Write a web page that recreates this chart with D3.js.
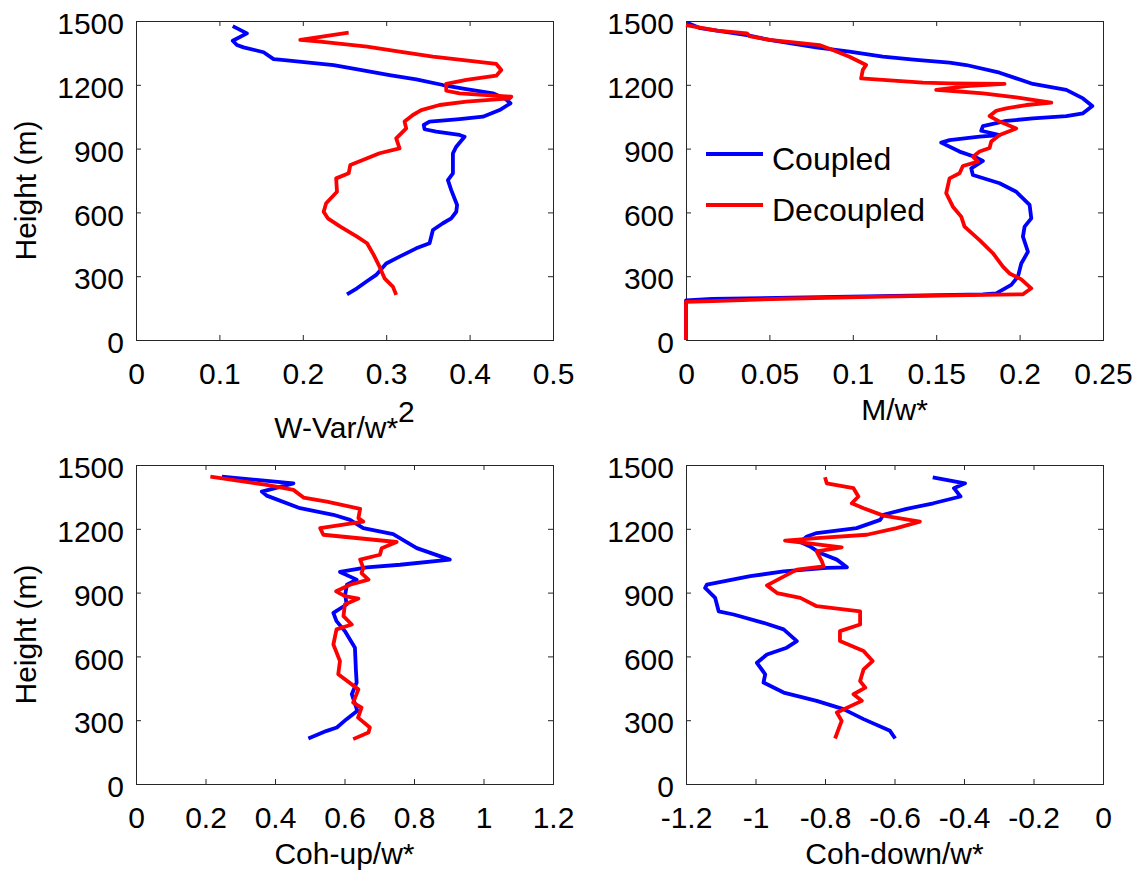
<!DOCTYPE html>
<html>
<head>
<meta charset="utf-8">
<script src="https://cdn.jsdelivr.net/npm/d3@7"></script>
<style>
  html, body { margin: 0; padding: 0; background: #fff; }
  svg text { font-family: "Liberation Sans", Arial, Helvetica, sans-serif; fill: #000; }
</style>
</head>
<body>
<svg id="fig" width="1143" height="880"></svg>
<script>
// Vertical profiles: each point is [value, height in m]

// W-Var / w*^2
const wvarCoupled = [
  [0.116,1476],[0.133,1442],[0.116,1407],[0.121,1387],[0.129,1376],[0.153,1353],[0.165,1321],
  [0.175,1317],[0.237,1293],[0.269,1270],[0.304,1246],[0.336,1226],[0.368,1199],[0.396,1180],
  [0.428,1160],[0.442,1136],[0.449,1113],[0.436,1081],[0.416,1050],[0.388,1039],[0.352,1027],
  [0.345,1011],[0.346,991],[0.360,980],[0.388,964],[0.394,956],[0.384,909],[0.380,878],
  [0.380,784],[0.374,752],[0.378,705],[0.385,635],[0.384,603],[0.378,572],[0.368,549],
  [0.356,517],[0.352,455],[0.336,431],[0.316,392],[0.300,360],[0.288,306],[0.276,274],
  [0.265,243],[0.253,215]
];
const wvarDecoupled = [
  [0.255,1445],[0.209,1418],[0.197,1411],[0.221,1403],[0.277,1379],[0.316,1356],[0.356,1332],
  [0.432,1298],[0.438,1270],[0.432,1243],[0.396,1223],[0.372,1204],[0.372,1172],[0.388,1160],
  [0.450,1144],[0.448,1136],[0.396,1121],[0.364,1105],[0.342,1081],[0.332,1058],[0.322,1027],
  [0.324,995],[0.312,948],[0.316,901],[0.292,878],[0.272,846],[0.257,823],[0.255,784],
  [0.240,760],[0.241,697],[0.228,643],[0.225,603],[0.230,572],[0.245,533],[0.265,486],
  [0.277,455],[0.285,400],[0.292,345],[0.298,290],[0.308,251],[0.312,212]
];

// M / w*
const massCoupled = [
  [0.0006,1492],[0.0086,1466],[0.0365,1434],[0.050,1411],[0.078,1376],[0.098,1356],[0.118,1332],
  [0.138,1317],[0.158,1304],[0.168,1293],[0.188,1257],[0.198,1230],[0.208,1204],[0.228,1176],
  [0.238,1136],[0.2436,1100],[0.238,1066],[0.228,1053],[0.208,1042],[0.192,1030],[0.178,1006],
  [0.177,984],[0.188,964],[0.176,956],[0.158,940],[0.153,928],[0.164,886],[0.173,862],
  [0.178,842],[0.171,807],[0.172,776],[0.188,737],[0.198,697],[0.206,635],[0.207,572],
  [0.203,533],[0.202,486],[0.205,415],[0.201,360],[0.199,298],[0.195,259],[0.186,219],
  [0.178,215],[0.0156,193],[0.0,186],[0.0,0]
];
const massDecoupled = [
  [0.0,1481],[0.0186,1455],[0.0365,1442],[0.038,1429],[0.050,1411],[0.066,1398],[0.080,1387],
  [0.088,1364],[0.098,1332],[0.108,1293],[0.106,1270],[0.105,1230],[0.118,1223],[0.142,1210],
  [0.158,1207],[0.191,1204],[0.168,1194],[0.150,1176],[0.158,1172],[0.178,1160],[0.198,1141],
  [0.219,1116],[0.204,1105],[0.192,1089],[0.186,1078],[0.182,1053],[0.188,1027],[0.198,995],
  [0.188,964],[0.183,933],[0.182,903],[0.176,886],[0.172,862],[0.175,839],[0.166,818],
  [0.164,784],[0.158,760],[0.156,690],[0.160,627],[0.165,580],[0.167,533],[0.176,470],
  [0.184,408],[0.190,345],[0.194,313],[0.201,285],[0.207,243],[0.202,215],[0.178,212],
  [0.118,204],[0.058,194],[0.016,183],[0.0,179],[0.0,0]
];

// Coh-up / w*
const cohUpCoupled = [
  [0.247,1445],[0.453,1414],[0.362,1375],[0.376,1356],[0.472,1297],[0.568,1266],[0.616,1242],
  [0.654,1203],[0.740,1175],[0.808,1109],[0.903,1055],[0.760,1031],[0.664,1019],[0.587,997],
  [0.635,961],[0.607,937],[0.602,891],[0.606,844],[0.568,805],[0.577,766],[0.601,719],
  [0.630,641],[0.633,531],[0.635,477],[0.621,422],[0.637,344],[0.606,305],[0.578,266],
  [0.549,250],[0.496,214]
];
const cohUpDecoupled = [
  [0.214,1445],[0.376,1406],[0.453,1383],[0.482,1347],[0.549,1328],[0.645,1294],[0.640,1250],
  [0.654,1234],[0.530,1203],[0.539,1172],[0.750,1138],[0.707,1109],[0.702,1078],[0.645,1055],
  [0.654,1016],[0.649,992],[0.669,961],[0.616,937],[0.576,906],[0.601,883],[0.640,872],
  [0.601,844],[0.597,789],[0.621,750],[0.577,727],[0.568,656],[0.587,578],[0.582,516],
  [0.640,445],[0.625,383],[0.649,359],[0.639,312],[0.673,266],[0.669,242],[0.625,211]
];

// Coh-down / w*
const cohDownCoupled = [
  [-0.490,1442],[-0.397,1414],[-0.429,1391],[-0.410,1352],[-0.488,1320],[-0.565,1294],
  [-0.632,1266],[-0.641,1242],[-0.709,1203],[-0.824,1180],[-0.852,1164],[-0.871,1138],
  [-0.843,1117],[-0.814,1086],[-0.766,1055],[-0.737,1019],[-0.795,1016],[-0.919,1000],
  [-1.015,977],[-1.140,937],[-1.145,922],[-1.116,875],[-1.106,812],[-1.063,797],[-0.977,758],
  [-0.919,727],[-0.881,672],[-0.910,641],[-0.967,609],[-0.996,570],[-0.972,516],[-0.977,477],
  [-0.919,430],[-0.824,391],[-0.747,352],[-0.689,305],[-0.613,250],[-0.598,214]
];
const cohDownDecoupled = [
  [-0.800,1442],[-0.795,1414],[-0.718,1391],[-0.704,1352],[-0.723,1320],[-0.689,1297],
  [-0.632,1262],[-0.527,1234],[-0.594,1203],[-0.680,1172],[-0.824,1156],[-0.915,1144],
  [-0.852,1133],[-0.752,1113],[-0.824,1094],[-0.809,1047],[-0.804,1023],[-0.881,1008],
  [-0.967,934],[-0.938,898],[-0.871,875],[-0.824,836],[-0.699,812],[-0.699,750],[-0.757,719],
  [-0.757,672],[-0.689,625],[-0.663,578],[-0.689,539],[-0.699,484],[-0.684,453],[-0.718,422],
  [-0.694,391],[-0.766,336],[-0.752,297],[-0.761,258],[-0.771,214]
];

// Axis ticks
const heightTicks = [0, 300, 600, 900, 1200, 1500];
const wvarTicks = [0, 0.1, 0.2, 0.3, 0.4, 0.5];
const massTicks = [0, 0.05, 0.1, 0.15, 0.2, 0.25];
const cohUpTicks = [0, 0.2, 0.4, 0.6, 0.8, 1, 1.2];
const cohDownTicks = [-1.2, -1, -0.8, -0.6, -0.4, -0.2, 0];

const seriesNames = ["Coupled", "Decoupled"];
const seriesColors = ["#0000ff", "#ff0000"];

const svg = d3.select("#fig");
const W = 417, H = 319;
const FONT = 30;

const panels = [
  { left: 136, top: 21, domain: [0, 0.5], ticks: wvarTicks, data: [wvarCoupled, wvarDecoupled],
    xlabel: "W-Var/w*", sup: "2", ylabel: true },
  { left: 686, top: 21, domain: [0, 0.25], ticks: massTicks, data: [massCoupled, massDecoupled],
    xlabel: "M/w*", ylabel: false, legend: true },
  { left: 136, top: 465, domain: [0, 1.2], ticks: cohUpTicks, data: [cohUpCoupled, cohUpDecoupled],
    xlabel: "Coh-up/w*", ylabel: true },
  { left: 686, top: 465, domain: [-1.2, 0], ticks: cohDownTicks, data: [cohDownCoupled, cohDownDecoupled],
    xlabel: "Coh-down/w*", ylabel: false }
];

panels.forEach(p => {
  const g = svg.append("g").attr("transform", `translate(${p.left},${p.top})`);
  const x = d3.scaleLinear().domain(p.domain).range([0, W]);
  const y = d3.scaleLinear().domain([0, 1500]).range([H, 0]);

  // inward ticks on all four sides, labels only on bottom and left
  const bottom = d3.axisBottom(x).tickValues(p.ticks).tickSizeInner(-5).tickSizeOuter(0)
    .tickPadding(23).tickFormat(d => String(d));
  const top = d3.axisTop(x).tickValues(p.ticks).tickSizeInner(-5).tickSizeOuter(0).tickFormat("");
  const left = d3.axisLeft(y).tickValues(heightTicks).tickSizeInner(-5).tickSizeOuter(0)
    .tickPadding(12).tickFormat(d => String(d));
  const right = d3.axisRight(y).tickValues(heightTicks).tickSizeInner(-5).tickSizeOuter(0).tickFormat("");

  const styleAxis = sel => {
    sel.select(".domain").remove();
    sel.selectAll(".tick line").attr("stroke", "#262626").attr("stroke-width", 1);
    sel.selectAll(".tick text").attr("font-size", FONT).attr("fill", "#000")
      .style("font-family", "'Liberation Sans', Arial, sans-serif");
  };
  g.append("g").attr("transform", `translate(0,${H})`).call(bottom).call(styleAxis)
    .selectAll(".tick text").attr("dy", "0.71em");
  g.append("g").call(top).call(styleAxis);
  g.append("g").call(left).call(styleAxis)
    .selectAll(".tick text").attr("dy", "0.42em");
  g.append("g").attr("transform", `translate(${W},0)`).call(right).call(styleAxis);

  g.append("rect").attr("x", 0.5).attr("y", 0.5).attr("width", W).attr("height", H)
    .attr("fill", "none").attr("stroke", "#262626").attr("stroke-width", 1);

  const line = d3.line().x(d => x(d[0])).y(d => y(d[1]));
  p.data.forEach((series, i) => {
    g.append("path").datum(series).attr("d", line)
      .attr("fill", "none").attr("stroke", seriesColors[i])
      .attr("stroke-width", 3.8).attr("stroke-linejoin", "round").attr("stroke-linecap", "butt");
  });

  // x label
  const xl = g.append("text").attr("x", W / 2).attr("y", H + (p.sup ? 98 : 80))
    .attr("text-anchor", "middle").attr("font-size", FONT).text(p.xlabel);
  if (p.sup) {
    xl.append("tspan").attr("dy", -16).attr("font-size", FONT).text(p.sup);
  }

  if (p.ylabel) {
    g.append("text")
      .attr("transform", `translate(${-100},${H / 2 + 10}) rotate(-90)`)
      .attr("text-anchor", "middle").attr("font-size", FONT).text("Height (m)");
  }

  if (p.legend) {
    const lg = g.append("g").attr("transform", "translate(20,133)");
    seriesNames.forEach((name, i) => {
      const row = lg.append("g").attr("transform", `translate(0,${i * 51})`);
      row.append("line").attr("x1", 0).attr("x2", 57).attr("y1", 0).attr("y2", 0)
        .attr("stroke", seriesColors[i]).attr("stroke-width", 4);
      row.append("text").attr("x", 66).attr("y", 16).attr("font-size", 32).text(name);
    });
  }
});
</script>
</body>
</html>
